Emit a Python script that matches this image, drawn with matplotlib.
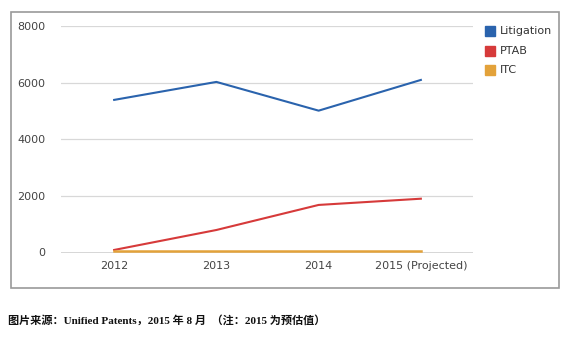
import matplotlib
matplotlib.use("Agg")
import matplotlib.pyplot as plt
from matplotlib.patches import Rectangle

# data
years = ['2012', '2013', '2014', '2015 (Projected)']
litigation = [5390, 6025, 5010, 6095]
ptab = [90, 795, 1680, 1900]
itc = [40, 40, 40, 40]
yticks = [0, 2000, 4000, 6000, 8000]
caption = '图片来源：Unified Patents，2015 年 8 月  （注：2015 为预估值）'

col_lit = '#2a63ad'
col_ptab = '#d63a3a'
col_itc = '#e3a23a'

fig = plt.figure(figsize=(5.67, 3.40), dpi=100)

# outer frame of the chart image
fig.patches.append(Rectangle((11/567, 1-288/340), (559-11)/567, (288-12)/340,
                             transform=fig.transFigure, fill=False,
                             edgecolor='#9a9a9a', lw=1.2))

ax = fig.add_axes([61/567, 1-252.5/340, (473-61)/567, (252.5-26)/340])
x = range(len(years))
ax.plot(x, litigation, color=col_lit, lw=1.5, label='Litigation')
ax.plot(x, ptab, color=col_ptab, lw=1.5, label='PTAB')
ax.plot(x, itc, color=col_itc, lw=1.8, label='ITC')

ax.set_xlim(-0.52, 3.51)
ax.set_ylim(0, 8000)
ax.set_yticks(yticks)
ax.set_yticklabels([str(v) for v in yticks])
ax.set_xticks(list(x))
ax.set_xticklabels(years)
ax.tick_params(length=0, labelsize=8, colors='#444444')
ax.tick_params(axis='y', pad=11)
ax.tick_params(axis='x', pad=6)
for v in yticks[1:]:
    ax.axhline(v, color='#d8d8d8', lw=0.9, zorder=0)
ax.axhline(0, color='#333333', lw=1.0, zorder=1)
for s in ax.spines.values():
    s.set_visible(False)

# legend drawn as squares + labels
for i, (name, c) in enumerate([('Litigation', col_lit), ('PTAB', col_ptab), ('ITC', col_itc)]):
    yy = 1 - (31 + i*19.5)/340
    fig.patches.append(Rectangle((485/567, yy - 5/340), 10/567, 10/340,
                                 transform=fig.transFigure, color=c))
    fig.text(500/567, yy, name, fontsize=8, color='#333333', va='center')

fig.text(8/567, 1-320/340, caption, fontsize=8, fontweight='bold',
         family=['Liberation Serif', 'Noto Sans CJK SC'], va='center', color='#111111')

fig.savefig('out.png', dpi=100)
